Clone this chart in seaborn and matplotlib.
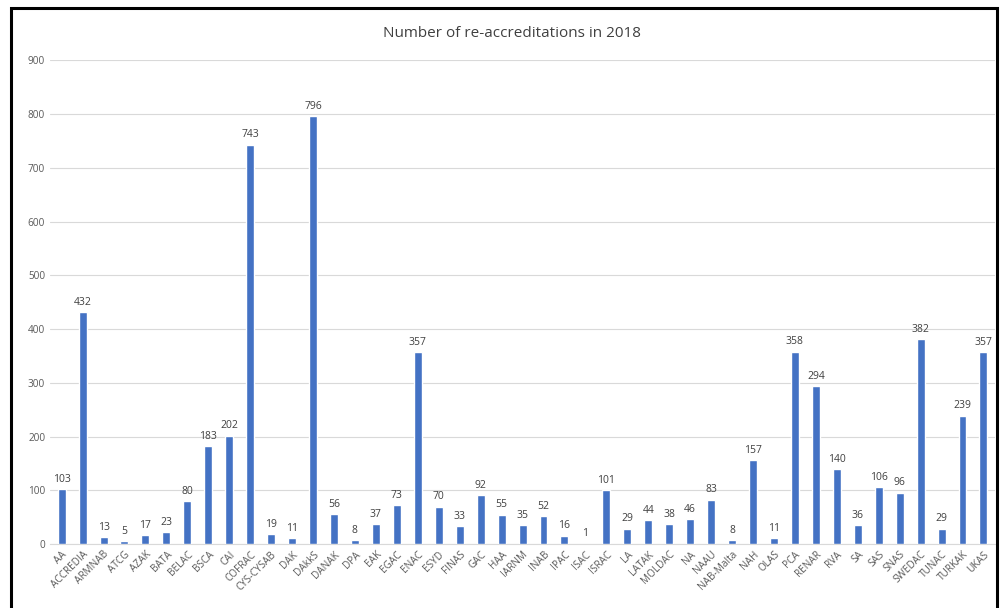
import numpy as np
import pandas as pd
import matplotlib
matplotlib.use("Agg")
import matplotlib.pyplot as plt
import matplotlib.patches as patches
import seaborn as sns

organismos = ["AA", "ACCREDIA", "ARMNAB", "ATCG", "AZAK", "BATA", "BELAC", "BSCA", "CAI",
              "COFRAC", "CYS-CYSAB", "DAK", "DAkkS", "DANAK", "DPA", "EAK", "EGAC", "ENAC",
              "ESYD", "FINAS", "GAC", "HAA", "IARNM", "INAB", "IPAC", "ISAC", "ISRAC", "LA",
              "LATAK", "MOLDAC", "NA", "NAAU", "NAB-Malta", "NAH", "OLAS", "PCA", "RENAR",
              "RVA", "SA", "SAS", "SNAS", "SWEDAC", "TUNAC", "TURKAK", "UKAS"]
reacreditaciones = [103, 432, 13, 5, 17, 23, 80, 183, 202, 743, 19, 11, 796, 56, 8, 37, 73, 357,
                    70, 33, 92, 55, 35, 52, 16, 1, 101, 29, 44, 38, 46, 83, 8, 157, 11, 358, 294,
                    140, 36, 106, 96, 382, 29, 239, 357]
yticks = list(range(0, 1000, 100))

df = pd.DataFrame({"Organismo": organismos, "Valor": reacreditaciones})

sns.set_style("white")
plt.rcParams['font.family'] = ['Open Sans', 'DejaVu Sans']

fig = plt.figure(figsize=(10.02, 6.08), dpi=100)
ax = fig.add_axes([0.05, 0.105, 0.943, 0.796])

sns.barplot(data=df, x="Organismo", y="Valor", color="#4472C4", width=0.38,
            saturation=1, ax=ax, zorder=3)
ax.bar_label(ax.containers[0], padding=3, fontsize=7.5, color="#404040")

ax.set_ylim(0, 900)
ax.set_yticks(yticks)
ax.set_xlim(-0.55, len(organismos) - 0.45)
ax.grid(axis="y", color="#d9d9d9", linewidth=0.8, zorder=0)
for s in ["top", "right", "left"]:
    ax.spines[s].set_visible(False)
ax.spines["bottom"].set_color("#d9d9d9")
ax.tick_params(axis="both", length=0, labelsize=7.2, colors="#595959")
plt.setp(ax.get_xticklabels(), rotation=45, ha="right", rotation_mode="anchor")
ax.set_xlabel("")
ax.set_ylabel("")

fig.text(0.511, 0.945, "Number of re-accreditations in 2018", ha="center", va="center",
         fontsize=11, color="#404040")

# marco negro de la captura
fig.patches.append(patches.Rectangle((0.011, -0.01), 0.984, 0.997, transform=fig.transFigure,
                                     fill=False, edgecolor="black", linewidth=2.2))

plt.savefig("out.png", dpi=100)
